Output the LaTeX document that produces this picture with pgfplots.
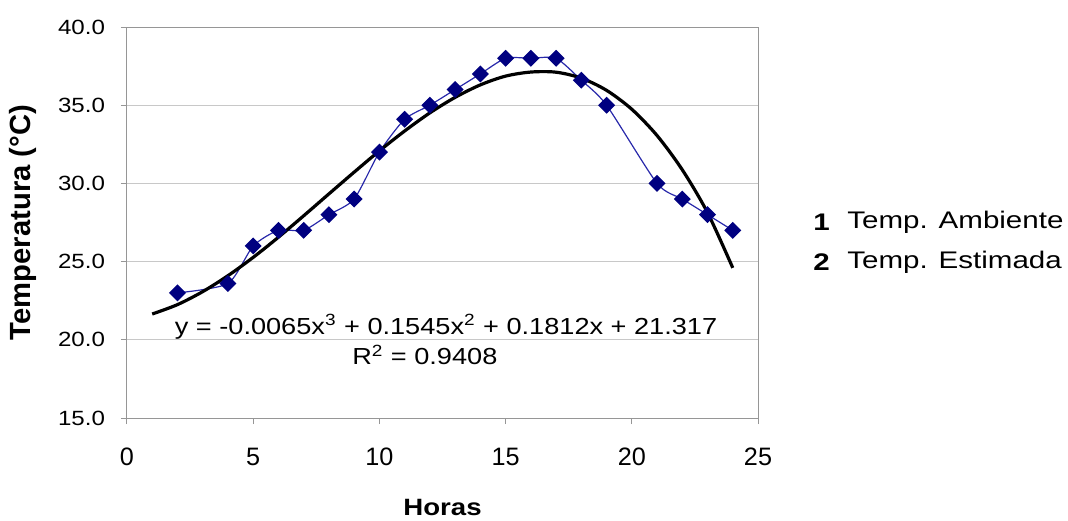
\documentclass[border=0pt]{standalone}
\usepackage{pgfplots}
\pgfplotsset{compat=1.18}
\usepackage{fontspec}
\setmainfont{Liberation Sans}
\newfontfamily\wideA{Liberation Sans}[FakeStretch=1.17]
\newfontfamily\wideB{Liberation Sans}[FakeStretch=1.23]
\definecolor{gridgray}{RGB}{200,200,200}
\definecolor{axgray}{RGB}{150,150,150}
\definecolor{mk}{RGB}{0,0,128}
\definecolor{ln}{RGB}{40,40,170}
\begin{document}
\begin{tikzpicture}
\useasboundingbox (-63.5pt,-51pt) rectangle (470.5pt,209pt);
\begin{axis}[
  at={(0,0)}, anchor=south west,
  scale only axis, width=315.5pt, height=195.5pt,
  xmin=0, xmax=25, ymin=15, ymax=40,
  xtick={0,5,10,15,20,25}, ytick={15,20,25,30,35,40},
  axis line style={axgray, line width=0.5pt},
  tick style={axgray, line width=0.5pt},
  tick align=outside, major tick length=3pt,
  xtick pos=bottom, ytick pos=left,
  ymajorgrids, grid style={gridgray, line width=0.5pt},
  /pgf/number format/assume math mode=true,
  yticklabel style={/pgf/number format/fixed, /pgf/number format/fixed zerofill, /pgf/number format/precision=1, xshift=-4.5pt, font=\wideA\fontsize{10.3}{12}\selectfont},
  xticklabel style={yshift=-8.5pt, font=\fontsize{12.6}{14}\selectfont},
  xlabel={Horas}, ylabel={Temperatura (°C)},
  xlabel style={font=\wideA\fontsize{11.8}{13}\selectfont\bfseries, at={(axis description cs:0.5,-0.2276)}, anchor=center},
  ylabel style={font=\fontsize{14.6}{16}\selectfont\bfseries, at={(axis description cs:-0.1648,0.5)}, anchor=center},
  clip=false,
]
\addplot[ln, line width=0.6pt, smooth, tension=0.4, mark=square*, mark size=2.7pt,
  mark options={mk, fill=mk, rotate=45}] coordinates {
  (2,23.0) (4,23.6) (5,26.0) (6,27.0) (7,27.0) (8,28.0) (9,29.0) (10,32.0)
  (11,34.1) (12,35.0) (13,36.0) (14,37.0) (15,38.0) (16,38.0) (17,38.0)
  (18,36.6) (19,35.0) (21,30.0) (22,29.0) (23,28.0) (24,27.0)
};
\addplot[black, line width=1.6pt, smooth, tension=0.5] coordinates {
  (1,21.65) (2,22.25) (3,23.08) (4,24.10) (5,25.27) (6,26.56) (7,27.93)
  (8,29.33) (9,30.72) (10,32.08) (11,33.35) (12,34.51) (13,35.50) (14,36.30)
  (15,36.86) (16,37.12) (17,37.11) (18,36.73) (19,35.95) (20,34.74)
  (21,33.06) (22,30.87) (23,28.13) (24,24.6)
};
\node[font=\wideA\fontsize{11.6}{13}\selectfont, anchor=center] at (axis cs:12.64,20.82)
  {y = -0.0065x\textsuperscript{3} + 0.1545x\textsuperscript{2} + 0.1812x + 21.317};
\node[font=\wideA\fontsize{11.6}{13}\selectfont, anchor=center] at (axis cs:11.8,19.03)
  {R\textsuperscript{2} = 0.9408};
\end{axis}
\node[font=\wideB\fontsize{12}{14}\selectfont\bfseries, anchor=west, inner sep=0pt] at (343pt,98pt) {1};
\node[font=\wideB\fontsize{12}{14}\selectfont, anchor=west, inner sep=0pt] at (360pt,98pt) {Temp. Ambiente};
\node[font=\wideB\fontsize{12}{14}\selectfont\bfseries, anchor=west, inner sep=0pt] at (343pt,78pt) {2};
\node[font=\wideB\fontsize{12}{14}\selectfont, anchor=west, inner sep=0pt] at (360pt,78pt) {Temp. Estimada};
\end{tikzpicture}
\end{document}
